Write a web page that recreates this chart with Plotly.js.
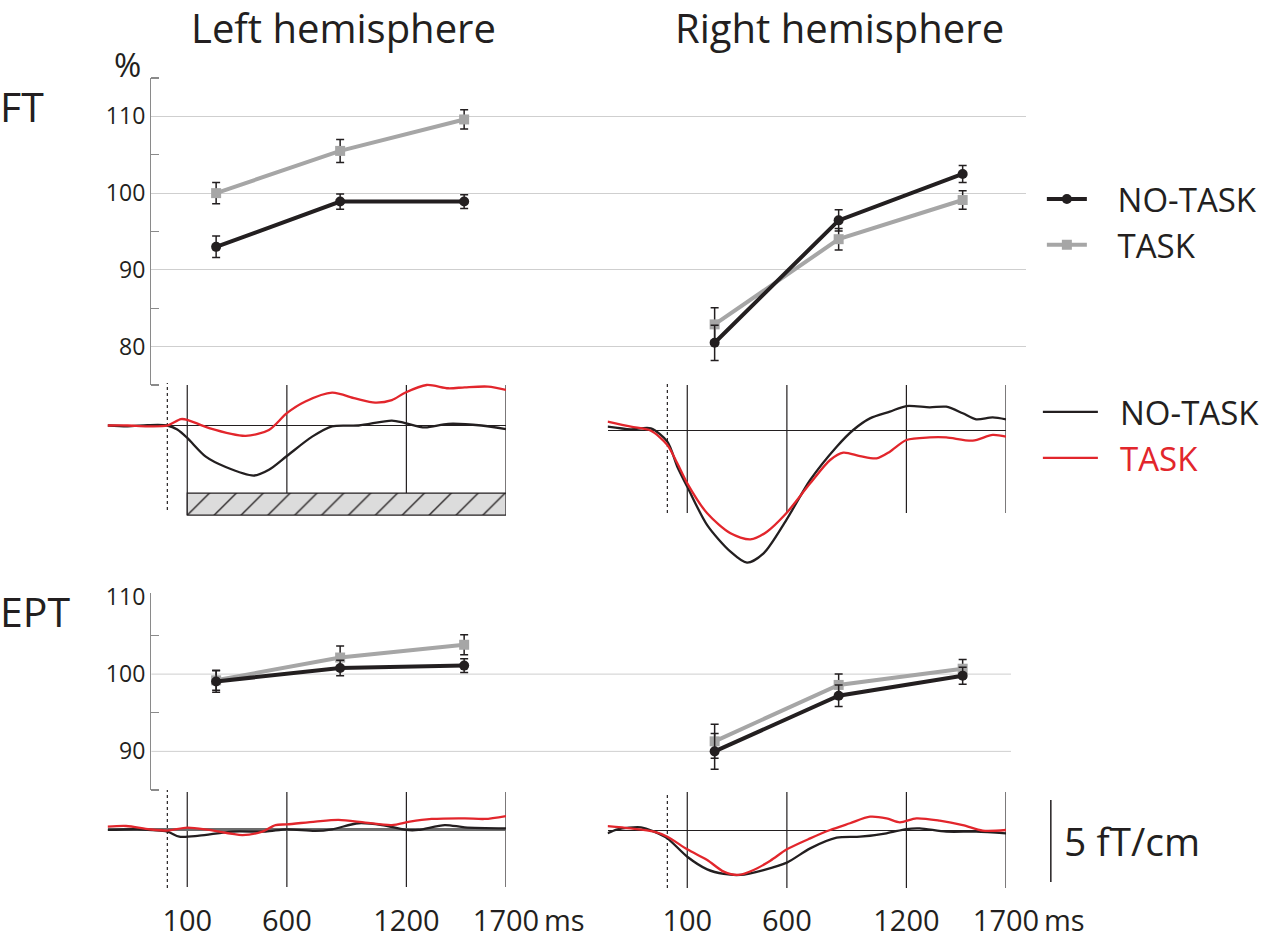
<!DOCTYPE html>
<html>
<head>
<meta charset="utf-8">
<script src="https://cdn.plot.ly/plotly-3.0.1.min.js"></script>
<style>
  html, body { margin: 0; padding: 0; background: #fff; overflow: hidden; }
  #chart { width: 1265px; height: 939px; overflow: hidden; }
</style>
</head>
<body>
<div id="chart"></div>
<script>
// ---- percent plots (three time windows per hemisphere) ----
var slots = [1, 2, 3];
var rightShift = 4.02;

var ftLeftNoTask = [93.0, 98.9, 98.9];
var ftLeftNoTaskErr = [1.4, 1.0, 0.9];
var ftLeftTask = [100.0, 105.5, 109.6];
var ftLeftTaskErr = [1.4, 1.5, 1.25];
var ftRightNoTask = [80.5, 96.45, 102.5];
var ftRightNoTaskErr = [2.3, 1.4, 1.1];
var ftRightTask = [82.9, 94.0, 99.1];
var ftRightTaskErr = [2.15, 1.4, 1.2];

var eptLeftNoTask = [99.05, 100.8, 101.1];
var eptLeftNoTaskErr = [1.4, 1.0, 0.9];
var eptLeftTask = [99.2, 102.15, 103.8];
var eptLeftTaskErr = [1.3, 1.5, 1.3];
var eptRightNoTask = [90.0, 97.2, 99.8];
var eptRightNoTaskErr = [2.3, 1.4, 1.1];
var eptRightTask = [91.3, 98.6, 100.7];
var eptRightTaskErr = [2.2, 1.4, 1.2];

var ftTickVals = [80, 90, 100, 110];
var ftMinorVals = [75, 85, 95, 105, 115];
var eptTickVals = [90, 100, 110];
var eptMinorVals = [85, 95, 105];
var eptGrid = [90, 100];

// ---- waveforms (ms, fT/cm) ----
var timeTicks = [100, 600, 1200, 1700];
var timeLabels = ['100', '600', '1200', '1700'];
var stimWindow = [100, 1700];
var scaleBar = 5; // fT/cm

var ftLeftNoTaskT = [-300, -200, -100, 0, 50, 100, 193, 293, 435, 510, 600, 727, 827, 960, 1127, 1193, 1293, 1410, 1577, 1700];
var ftLeftNoTaskV = [0, -0.05, 0.02, 0, -0.25, -0.76, -1.9, -2.53, -3.05, -2.7, -1.86, -0.68, -0.05, 0, 0.3, 0.15, -0.12, 0.1, 0, -0.22];
var ftLeftTaskT = [-300, -200, -100, 0, 68, 100, 210, 393, 510, 600, 693, 827, 943, 1043, 1127, 1193, 1302, 1410, 1493, 1610, 1700];
var ftLeftTaskV = [0, 0, -0.05, 0, 0.39, 0.35, -0.16, -0.63, -0.27, 0.75, 1.46, 2.0, 1.65, 1.4, 1.55, 2.0, 2.47, 2.27, 2.33, 2.37, 2.17];

var ftRightNoTaskT = [-300, -183, -83, 0, 50, 100, 200, 317, 400, 483, 597, 717, 850, 933, 1017, 1117, 1200, 1317, 1400, 1483, 1550, 1633, 1700];
var ftRightNoTaskV = [0.2, 0.04, 0.1, -0.71, -2.24, -3.46, -5.8, -7.42, -8.09, -7.52, -5.49, -3.05, -1.02, 0, 0.71, 1.12, 1.46, 1.38, 1.42, 1.02, 0.65, 0.77, 0.65];
var ftRightTaskT = [-300, -183, -83, 0, 50, 100, 200, 317, 417, 500, 597, 717, 817, 883, 967, 1050, 1117, 1200, 1317, 1400, 1533, 1633, 1700];
var ftRightTaskV = [0.51, 0.2, -0.04, -0.91, -2.03, -3.25, -5.08, -6.3, -6.67, -6.2, -5.08, -3.25, -1.83, -1.38, -1.59, -1.73, -1.32, -0.61, -0.45, -0.45, -0.65, -0.3, -0.41];

var eptLeftNoTaskT = [-300, -150, 0, 60, 160, 327, 493, 600, 743, 827, 960, 1077, 1200, 1260, 1393, 1493, 1700];
var eptLeftNoTaskV = [-0.04, 0, -0.14, -0.45, -0.39, -0.14, -0.14, 0, -0.1, 0, 0.37, 0.26, -0.04, -0.04, 0.26, 0.12, 0.06];
var eptLeftTaskT = [-300, -207, -90, 0, 100, 210, 377, 477, 543, 600, 743, 860, 993, 1127, 1217, 1327, 1493, 1593, 1700];
var eptLeftTaskV = [0.16, 0.2, 0, -0.08, 0.1, -0.04, -0.35, -0.14, 0.26, 0.3, 0.47, 0.57, 0.41, 0.26, 0.47, 0.63, 0.67, 0.63, 0.81];

var eptRightNoTaskT = [-300, -250, -133, -67, 0, 100, 200, 283, 367, 483, 600, 717, 850, 967, 1100, 1200, 1267, 1400, 1550, 1700];
var eptRightNoTaskV = [-0.2, 0.04, 0.16, -0.1, -0.51, -1.63, -2.4, -2.68, -2.74, -2.44, -1.99, -1.12, -0.47, -0.41, -0.2, 0.06, 0.1, -0.1, -0.1, -0.2];
var eptRightTaskT = [-300, -183, -67, 0, 100, 200, 283, 358, 433, 517, 600, 717, 817, 917, 1017, 1100, 1167, 1250, 1367, 1483, 1583, 1700];
var eptRightTaskV = [0.24, 0.1, -0.1, -0.41, -1.18, -1.83, -2.54, -2.74, -2.44, -1.87, -1.18, -0.51, 0, 0.41, 0.81, 0.71, 0.47, 0.71, 0.57, 0.3, -0.04, 0];

// ---- styling ----
var W = 1265, H = 939;
var FONT = 'Open Sans, Noto Sans, sans-serif';
var INK = '#231f20';
var GREY = '#a6a6a6';
var RED = '#e2262c';
var PX_PER_UNIT = 82 / scaleBar;

function px(x) { return x / W; }
function py(y) { return 1 - y / H; }
function waveRange(base, top, bottom) {
  return [-(bottom - base) / PX_PER_UNIT, (base - top) / PX_PER_UNIT];
}
function shifted(arr) { return arr.map(function (s) { return s + rightShift; }); }

function pctTrace(xa, ya, xs, ys, errs, task, legend) {
  return {
    x: xs, y: ys, xaxis: xa, yaxis: ya,
    type: 'scatter', mode: 'lines+markers',
    name: '\u00a0\u00a0\u00a0' + (task ? 'TASK' : 'NO-TASK'),
    legend: 'legend', legendrank: task ? 2 : 1,
    showlegend: legend,
    line: { color: task ? GREY : INK, width: 4 },
    marker: { color: task ? GREY : INK, size: 10, symbol: task ? 'square' : 'circle' },
    error_y: { type: 'data', array: errs, visible: true, color: INK, thickness: 1.5, width: 4 },
    cliponaxis: false
  };
}
function waveTrace(xa, ya, ts, vs, task, legend) {
  return {
    x: ts, y: vs, xaxis: xa, yaxis: ya,
    type: 'scatter', mode: 'lines',
    name: '\u00a0\u00a0' + (task ? '<span style="color:' + RED + '">TASK</span>' : 'NO-TASK'),
    legend: 'legend2', legendrank: task ? 2 : 1,
    showlegend: legend,
    line: { color: task ? RED : INK, width: 2.3, shape: 'spline', smoothing: 0.8 }
  };
}

var traces = [
  pctTrace('x', 'y', slots, ftLeftTask, ftLeftTaskErr, true, true),
  pctTrace('x', 'y', slots, ftLeftNoTask, ftLeftNoTaskErr, false, true),
  pctTrace('x', 'y', shifted(slots), ftRightTask, ftRightTaskErr, true, false),
  pctTrace('x', 'y', shifted(slots), ftRightNoTask, ftRightNoTaskErr, false, false),
  pctTrace('x2', 'y2', slots, eptLeftTask, eptLeftTaskErr, true, false),
  pctTrace('x2', 'y2', slots, eptLeftNoTask, eptLeftNoTaskErr, false, false),
  pctTrace('x2', 'y2', shifted(slots), eptRightTask, eptRightTaskErr, true, false),
  pctTrace('x2', 'y2', shifted(slots), eptRightNoTask, eptRightNoTaskErr, false, false),
  {
    type: 'bar', xaxis: 'x3', yaxis: 'y3', showlegend: false,
    x: [(stimWindow[0] + stimWindow[1]) / 2], width: [stimWindow[1] - stimWindow[0]],
    base: [-5.46], y: [1.34],
    marker: {
      color: '#dcdcdc', line: { color: INK, width: 1.2 },
      pattern: { shape: '/', fgcolor: INK, bgcolor: '#dcdcdc', size: 19, solidity: 0.07 }
    }
  },
  waveTrace('x3', 'y3', ftLeftNoTaskT, ftLeftNoTaskV, false, true),
  waveTrace('x3', 'y3', ftLeftTaskT, ftLeftTaskV, true, true),
  waveTrace('x4', 'y4', ftRightNoTaskT, ftRightNoTaskV, false, false),
  waveTrace('x4', 'y4', ftRightTaskT, ftRightTaskV, true, false),
  waveTrace('x5', 'y5', eptLeftNoTaskT, eptLeftNoTaskV, false, false),
  waveTrace('x5', 'y5', eptLeftTaskT, eptLeftTaskV, true, false),
  waveTrace('x6', 'y6', eptRightNoTaskT, eptRightNoTaskV, false, false),
  waveTrace('x6', 'y6', eptRightTaskT, eptRightTaskV, true, false)
];

var pctX = function (right, anchor) {
  return { domain: [px(152), px(right)], range: [0.478, 0.478 + (right - 152) / 124.5],
    anchor: anchor, visible: false, fixedrange: true };
};
var pctY = function (dom, range, vals, minorVals, grid, anchor) {
  return {
    domain: dom, range: range, anchor: anchor,
    tickmode: 'array', tickvals: vals, ticks: '',
    tickfont: { size: 23, family: FONT, color: INK },
    showline: true, linecolor: '#8a8a8a', linewidth: 1.5,
    showgrid: grid, gridcolor: '#cfcfcf', gridwidth: 1, zeroline: false,
    minor: { tickmode: 'array', tickvals: minorVals, ticks: 'inside', ticklen: 8, tickcolor: '#8a8a8a', tickwidth: 1.2, showgrid: false }
  };
};
var waveX = function (left, anchor, labels) {
  var ax = {
    domain: [px(left), px(left + 400)], range: [-300, 1700], anchor: anchor,
    showgrid: false, zeroline: false, showline: false, ticks: '',
    showticklabels: false, fixedrange: true
  };
  if (labels) {
    ax.showticklabels = true;
    ax.tickmode = 'array';
    ax.tickvals = timeTicks;
    ax.ticktext = timeLabels;
    ax.tickfont = { size: 29, family: FONT, color: INK };
    ax.ticklabelstandoff = 6;
  }
  return ax;
};
var waveY = function (top, bottom, base, anchor, zc, zw) {
  return {
    domain: [py(bottom), py(top)], range: waveRange(base, top, bottom), anchor: anchor,
    showgrid: false, showline: false, ticks: '', showticklabels: false,
    zeroline: true, zerolinecolor: zc || INK, zerolinewidth: zw || 1, fixedrange: true
  };
};

var panels = [
  { xa: 'x3', top: 385, bottom: 515, dotTop: 383, dotBottom: 510 },
  { xa: 'x4', top: 385, bottom: 513, dotTop: 383, dotBottom: 513 },
  { xa: 'x5', top: 792, bottom: 887, dotTop: 790, dotBottom: 888 },
  { xa: 'x6', top: 792, bottom: 888, dotTop: 792, dotBottom: 888 }
];
var shapes = [];
panels.forEach(function (p) {
  timeTicks.forEach(function (t) {
    shapes.push({ type: 'line', layer: 'below', xref: p.xa, yref: 'paper', x0: t, x1: t,
      y0: py(p.bottom), y1: py(p.top), line: { color: INK, width: 1.2 } });
  });
  shapes.push({ type: 'line', layer: 'below', xref: p.xa, yref: 'paper', x0: 0, x1: 0,
    y0: py(p.dotBottom), y1: py(p.dotTop), line: { color: INK, width: 1.2, dash: 'dot' } });
});
eptGrid.forEach(function (v) {
  shapes.push({ type: 'line', layer: 'below', xref: 'paper', yref: 'y2', x0: px(152), x1: px(1015),
    y0: v, y1: v, line: { color: '#cfcfcf', width: 1 } });
});
shapes.push({ type: 'line', xref: 'paper', yref: 'y6', x0: px(1055), x1: px(1055),
  y0: -3.17, y1: -3.17 + scaleBar, line: { color: INK, width: 1.5 } });

function txt(text, x, y, size, anchor) {
  return { text: text, xref: 'paper', yref: 'paper', x: px(x), y: py(y), xanchor: anchor || 'center',
    yanchor: 'middle', showarrow: false, font: { size: size, family: FONT, color: INK } };
}
function msLabel(xa) {
  return { text: 'ms', xref: xa, yref: 'paper', x: 1700, y: py(919), xanchor: 'left', yanchor: 'middle',
    xshift: 36, showarrow: false, font: { size: 29, family: FONT, color: INK } };
}
var annotations = [
  txt('Left hemisphere', 345, 27, 40),
  txt('Right hemisphere', 843, 27, 40),
  txt('FT', -2, 106, 41, 'left'),
  txt('EPT', -2, 611, 41, 'left'),
  txt('%', 128, 64, 33),
  txt(scaleBar + ' fT/cm', 1066, 840, 39, 'left'),
  msLabel('x5'),
  msLabel('x6')
];

var layout = {
  width: W, height: H,
  margin: { l: 0, r: 0, t: 0, b: 0 },
  paper_bgcolor: '#fff', plot_bgcolor: 'rgba(0,0,0,0)',
  font: { family: FONT, color: INK },
  hovermode: false,
  xaxis: pctX(1030, 'y'),
  yaxis: pctY([py(385), py(78)], [75, 115], ftTickVals, ftMinorVals, true, 'x'),
  xaxis2: pctX(1015, 'y2'),
  yaxis2: pctY([py(790), py(593)], [85, 110.5], eptTickVals, eptMinorVals, false, 'x2'),
  xaxis3: waveX(108, 'y3', false), yaxis3: waveY(380, 570, 425.5, 'x3'),
  xaxis4: waveX(610, 'y4', false), yaxis4: waveY(380, 570, 430, 'x4'),
  xaxis5: waveX(108, 'y5', true), yaxis5: waveY(785, 895, 829.3, 'x5', '#6d6d6d', 2.5),
  xaxis6: waveX(610, 'y6', true), yaxis6: waveY(785, 895, 830, 'x6'),
  legend: { x: px(1046), y: py(171), xanchor: 'left', yanchor: 'top', itemwidth: 40,
    bgcolor: 'rgba(0,0,0,0)', font: { size: 33, family: FONT, color: INK } },
  legend2: { x: px(1042), y: py(384), xanchor: 'left', yanchor: 'top', itemwidth: 55,
    bgcolor: 'rgba(0,0,0,0)', font: { size: 33, family: FONT, color: INK } },
  shapes: shapes,
  annotations: annotations
};

Plotly.newPlot('chart', traces, layout, { staticPlot: true, displayModeBar: false });
</script>
</body>
</html>
